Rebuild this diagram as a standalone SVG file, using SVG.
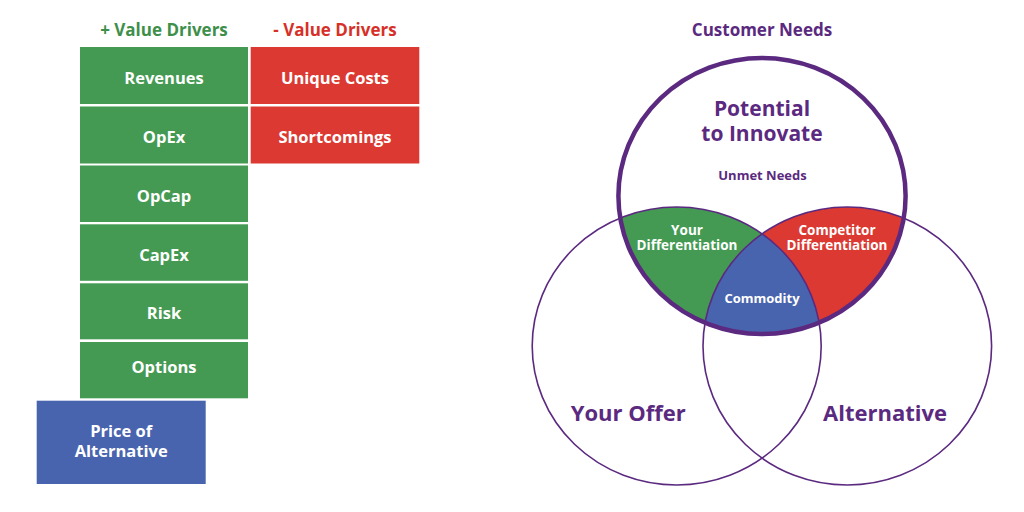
<svg xmlns="http://www.w3.org/2000/svg" width="1024" height="512" viewBox="0 0 1024 512">
<style>
text{font-family:"Open Sans","Liberation Sans",sans-serif;font-weight:700;text-anchor:middle}
.g{fill:#449a52}
.r{fill:#db3931}
.b{fill:#4964ae}
.bt{fill:#ffffff;font-size:16.5px}
.vt{fill:#ffffff;font-size:13.5px}
.pu{fill:#5b2a80}
.ring{fill:none;stroke:#5b2a80}
</style>
<defs>
<clipPath id="clipTop"><ellipse cx="762" cy="196" rx="143.6" ry="138"/></clipPath>
<clipPath id="clipRight"><ellipse cx="847.3" cy="346" rx="144.3" ry="139"/></clipPath>
</defs>
<rect width="1024" height="512" fill="#ffffff"/>

<text x="164" y="36" style="font-size:17px;fill:#3d8f4a">+ Value Drivers</text>
<text x="335" y="36" style="font-size:17px;fill:#d73028">- Value Drivers</text>

<g id="revenues"><rect class="g" x="80" y="47" width="168" height="57"/><text class="bt" x="164" y="84">Revenues</text></g>
<g id="opex"><rect class="g" x="80" y="106.5" width="168" height="57"/><text class="bt" x="164" y="143.3">OpEx</text></g>
<g id="opcap"><rect class="g" x="80" y="165.5" width="168" height="56.5"/><text class="bt" x="164" y="201.7">OpCap</text></g>
<g id="capex"><rect class="g" x="80" y="224.3" width="168" height="56.5"/><text class="bt" x="164" y="261">CapEx</text></g>
<g id="risk"><rect class="g" x="80" y="283.3" width="168" height="56"/><text class="bt" x="164" y="319">Risk</text></g>
<g id="options"><rect class="g" x="80" y="342" width="168" height="56.3"/><text class="bt" x="164" y="372.7">Options</text></g>
<g id="unique-costs"><rect class="r" x="250.7" y="47" width="168.6" height="57"/><text class="bt" x="335" y="84">Unique Costs</text></g>
<g id="shortcomings"><rect class="r" x="250.7" y="106.5" width="168.6" height="57"/><text class="bt" x="335" y="143.3">Shortcomings</text></g>
<g id="price-of-alternative"><rect class="b" x="36.7" y="400.7" width="169" height="83.3"/><text class="bt" x="121.2" y="437.3">Price of</text><text class="bt" x="121.2" y="457.3">Alternative</text></g>

<text class="pu" x="762" y="36" style="font-size:17px">Customer Needs</text>

<g id="venn-fills">
<g clip-path="url(#clipTop)">
<ellipse class="g" cx="676.7" cy="346" rx="144.5" ry="139"/>
<ellipse class="r" cx="847.3" cy="346" rx="144.3" ry="139"/>
<g clip-path="url(#clipRight)"><ellipse class="b" cx="676.7" cy="346" rx="144.5" ry="139"/></g>
</g>
</g>

<g id="your-offer"><ellipse class="ring" cx="676.7" cy="346" rx="144.5" ry="139" stroke-width="1.6"/><text class="pu" x="628.3" y="420.7" style="font-size:22px">Your Offer</text></g>
<g id="alternative"><ellipse class="ring" cx="847.3" cy="346" rx="144.3" ry="139" stroke-width="1.6"/><text class="pu" x="885" y="420.7" style="font-size:22px">Alternative</text></g>
<g id="customer-needs"><ellipse class="ring" cx="762" cy="196" rx="143.6" ry="138" stroke-width="4.5"/>
<text class="pu" x="762" y="116" style="font-size:21px">Potential</text>
<text class="pu" x="762" y="140.7" style="font-size:21px">to Innovate</text>
<text class="pu" x="762.5" y="180" style="font-size:13px">Unmet Needs</text>
</g>
<g id="your-differentiation"><text class="vt" x="687" y="234.5">Your</text><text class="vt" x="687" y="249.5">Differentiation</text></g>
<g id="competitor-differentiation"><text class="vt" x="837" y="234.5">Competitor</text><text class="vt" x="837" y="249.5">Differentiation</text></g>
<g id="commodity"><text class="vt" x="762" y="303" style="font-size:13px">Commodity</text></g>
</svg>
